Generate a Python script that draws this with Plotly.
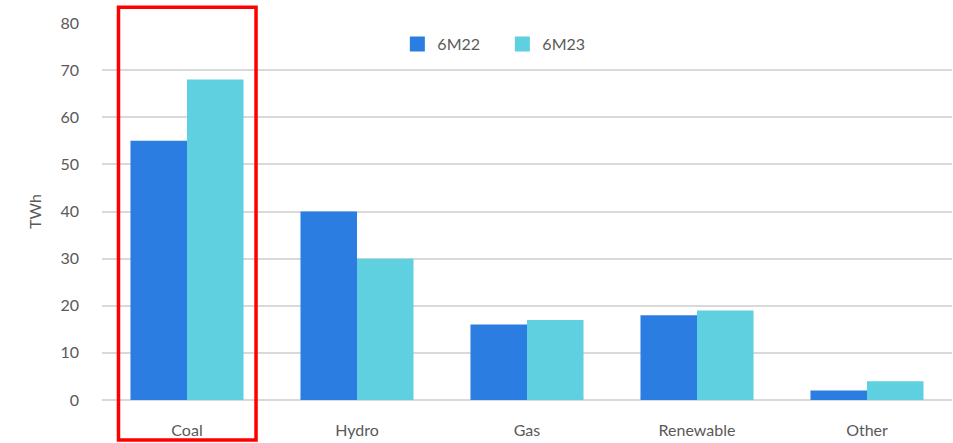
import plotly.graph_objects as go

categories = ["Coal", "Hydro", "Gas", "Renewable", "Other"]
values_6m22 = [55, 40, 16, 18, 2]
values_6m23 = [68, 30, 17, 19, 4]
series_names = ["6M22", "6M23"]
series_colors = ["#2B7DE1", "#5FD0DF"]
y_ticks = [0, 10, 20, 30, 40, 50, 60, 70, 80]

FONT = "Lato"
GREY = "#595959"

fig = go.Figure()
for name, vals, col in zip(series_names, [values_6m22, values_6m23], series_colors):
    fig.add_trace(go.Bar(x=categories, y=vals, name=name, showlegend=False,
                         marker=dict(color=col, line=dict(width=0))))
# legend entries with larger square symbols
for name, col in zip(series_names, series_colors):
    fig.add_trace(go.Scatter(x=[None], y=[None], mode="markers", name=name,
                             marker=dict(symbol="square", size=15, color=col),
                             showlegend=True))

fig.update_layout(
    width=953, height=443,
    margin=dict(l=102, r=1, t=23, b=43),
    paper_bgcolor="white", plot_bgcolor="white",
    barmode="group", bargap=0.335, bargroupgap=0,
    font=dict(family=FONT, size=16, color=GREY),
    legend=dict(orientation="h", x=0.471, y=0.944, xanchor="center", yanchor="middle",
                font=dict(size=16, color=GREY), entrywidth=60, entrywidthmode="pixels",
                bgcolor="rgba(0,0,0,0)"),
    showlegend=True,
)
fig.update_yaxes(range=[0, 80], tickvals=y_ticks, showgrid=True, gridcolor="#D9D9D9",
                 gridwidth=1.5, zeroline=True, zerolinecolor="#D9D9D9", zerolinewidth=1.5,
                 showline=False, ticks="", ticklabelstandoff=22,
                 tickfont=dict(size=16, color=GREY),
                 title=dict(text="TWh", font=dict(size=16, color=GREY), standoff=14))
fig.update_xaxes(showgrid=False, showline=False, ticks="", tickfont=dict(size=16, color=GREY),
                 ticklabelstandoff=19)

fig.add_shape(type="rect", xref="x", yref="paper", x0=-0.403, x1=0.406, y0=-0.106, y1=1.042,
              line=dict(color="#FF0000", width=3.5), fillcolor="rgba(0,0,0,0)", layer="above")

fig.write_html("out.html", config={"displayModeBar": False},
               post_script="document.body.style.margin='0';")
